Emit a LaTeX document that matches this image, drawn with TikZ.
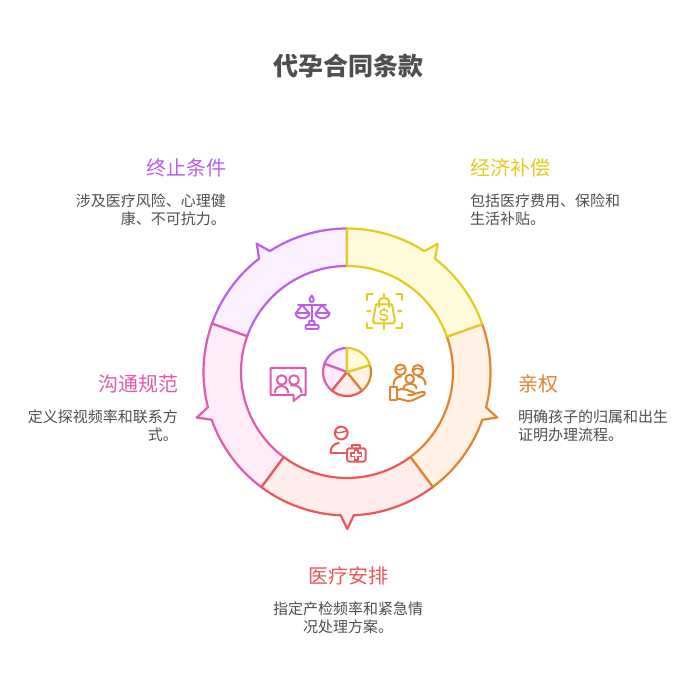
\documentclass[tikz,border=0pt]{standalone}
\usepackage{fontspec}
\setmainfont{Noto Sans CJK SC}
\definecolor{cy}{HTML}{E3CC1C}\definecolor{fy}{HTML}{FFFADC}
\definecolor{co}{HTML}{E0842F}\definecolor{fo}{HTML}{FFF2E4}
\definecolor{cr}{HTML}{EB5757}\definecolor{fr}{HTML}{FFECEC}
\definecolor{cp}{HTML}{DF5AB0}\definecolor{fp}{HTML}{FFECF9}
\definecolor{cv}{HTML}{BB5FEA}\definecolor{fv}{HTML}{FAF0FF}
\definecolor{txt}{HTML}{4F4F4F}
\tikzset{
 titletext/.style={font=\bfseries\fontsize{25pt}{25pt}\selectfont,text=txt,inner sep=0pt},
 headtext/.style={font=\fontsize{20pt}{20pt}\selectfont,inner sep=0pt},
 bodytext/.style={font=\fontsize{15pt}{15pt}\selectfont,text=txt,inner sep=0pt},
 segline/.style={line width=2.2pt,line join=round},
 pieline/.style={line width=2.2pt,line join=round},
 iconline/.style={line width=2pt,line cap=round,line join=round},
 iconfine/.style={line width=1.5pt},
}
\newcommand{\ringseg}[4]{%
 \pgfmathsetmacro{\midang}{(#3+#4)/2}%
 \pgfmathsetmacro{\midA}{\midang+2.6}\pgfmathsetmacro{\midB}{\midang-2.6}%
 \draw[segline,draw=#1,fill=#2] (#3:143.5) arc[start angle=#3,end angle=\midA,radius=143.5]
  -- (\midang:157) -- (\midB:143.5) arc[start angle=\midB,end angle=#4,radius=143.5]
  -- (#4:106) arc[start angle=#4,end angle=#3,radius=106] -- cycle;}
\newcommand{\pieseg}[4]{%
 \draw[pieline,draw=#1,fill=#2] (0,0) -- (#3:24) arc[start angle=#3,end angle=#4,radius=24] -- cycle;}
\begin{document}
\begin{tikzpicture}[x=1pt,y=-1pt]
\useasboundingbox (0,0) rectangle (696,684);
\fill[white] (0,0) rectangle (696,684);
\node[titletext,anchor=base] (title) at (348,75.5) {代孕合同条款};
\begin{scope}[shift={(347,372)},y=1pt]
 \ringseg{cv}{fv}{160.3}{90}
 \ringseg{cp}{fp}{233.4}{160.3}
 \ringseg{cr}{fr}{306.8}{233.4}
 \ringseg{co}{fo}{379.5}{306.8}
 \ringseg{cy}{fy}{90}{19.5}
 \pieseg{cv}{fv}{160}{90}
 \pieseg{cp}{fp}{231}{160}
 \pieseg{cr}{fr}{309}{231}
 \pieseg{co}{fo}{377}{309}
 \pieseg{cy}{fy}{90}{17}
\end{scope}
\node[headtext,text=cv,anchor=base east] (h1) at (226.5,175.5) {终止条件};
\node[bodytext,anchor=base east] (b1a) at (226,206.5) {涉及医疗风险、心理健};
\node[bodytext,anchor=base east] (b1b) at (226,224.5) {康、不可抗力。};
\node[headtext,text=cy,anchor=base west] (h2) at (470,175.5) {经济补偿};
\node[bodytext,anchor=base west] (b2a) at (470,206.5) {包括医疗费用、保险和};
\node[bodytext,anchor=base west] (b2b) at (470,224.5) {生活补贴。};
\node[headtext,text=co,anchor=base west] (h3) at (518,391.5) {亲权};
\node[bodytext,anchor=base west] (b3a) at (518,422.5) {明确孩子的归属和出生};
\node[bodytext,anchor=base west] (b3b) at (518,440.5) {证明办理流程。};
\node[headtext,text=cp,anchor=base east] (h4) at (178.5,391.5) {沟通规范};
\node[bodytext,anchor=base east] (b4a) at (178,422.5) {定义探视频率和联系方};
\node[bodytext,anchor=base east] (b4b) at (178,440.5) {式。};
\node[headtext,text=cr,anchor=base] (h5) at (348,583) {医疗安排};
\node[bodytext,anchor=base] (b5a) at (348,614.5) {指定产检频率和紧急情};
\node[bodytext,anchor=base] (b5b) at (348,632.5) {况处理方案。};
% scales icon
\begin{scope}[iconline,draw=cv]
 \draw (311.7,305) -- (311.7,321);
 \draw (311.7,295.5) .. controls (309,298.5) and (309,302) .. (311.7,302) .. controls (314.4,302) and (314.4,298.5) .. (311.7,295.5);
 \draw (298,305) -- (326,305);
 \draw (302,305) -- (296,313) (302,305) -- (309,313);
 \draw (322,305) -- (316,313) (322,305) -- (329,313);
 \draw (295.5,313) -- (309.5,313) .. controls (309,320) and (296,320) .. (295.5,313);
 \draw (315.5,313) -- (329.5,313) .. controls (329,320) and (316,320) .. (315.5,313);
 \draw (308.5,325) -- (309.5,321) -- (314,321) -- (315,325);
 \draw[rounded corners=1pt] (305.5,325) rectangle (318.5,329);
\end{scope}
% bag icon
\begin{scope}[iconline,draw=cy]
 \draw (367,300) -- (367,294.5) -- (372.5,294.5);
 \draw (396,294.5) -- (401.5,294.5) -- (401.5,300);
 \draw (367,323) -- (367,328.5) -- (372.5,328.5);
 \draw (396,328.5) -- (401.5,328.5) -- (401.5,323);
 \draw (384,294) -- (384,297.5);
 \draw (384,325) -- (384,329);
 \draw (367,311) -- (370.5,311);
 \draw (398,311) -- (401.5,311);
 \draw (376,304.5) -- (392,304.5) -- (395,321) -- (393,323.5) -- (375,323.5) -- (373,321) -- cycle;
 \draw (379,307) -- (379,303) .. controls (379,298) and (382,298) .. (384,298) .. controls (386,298) and (389,298) .. (389,303) -- (389,307);
 \draw[iconfine] (387.5,312) .. controls (387,310.5) and (386.5,310) .. (385,310) -- (382.5,310)
   .. controls (379.5,310) and (379.5,315) .. (382.5,315) -- (385,315)
   .. controls (388.5,315) and (388.5,320) .. (385,320) -- (382.5,320) .. controls (381,320) and (380.5,319.5) .. (380,318);
 \draw[iconfine] (383.8,308.3) -- (383.8,310) (383.8,320) -- (383.8,321.7);
\end{scope}
% chat icon
\begin{scope}[iconline,draw=cp]
 \draw (270.5,368) -- (305.5,368) -- (305.5,395) -- (301,395) -- (293.5,401) -- (293.5,395) -- (270.5,395) -- cycle;
 \draw (281.7,380) circle[radius=4.8];
 \draw (294,380) circle[radius=4.8];
 \draw (275,392.5) .. controls (275,384) and (288,384) .. (288,392.5);
 \draw (291,385.5) .. controls (296,384.5) and (301.5,387) .. (301.5,392.5);
\end{scope}
% family icon
\begin{scope}[iconline,draw=co]
 \draw (400.5,369.8) circle[radius=5.3];
 \draw (417.8,370.3) circle[radius=5.3];
 \draw (409.7,379) circle[radius=4.3];
 \draw[iconfine] (395.5,369) .. controls (399,370.5) and (402.5,369.5) .. (405,367.5);
 \draw[iconfine] (413,371) .. controls (415,367.5) and (420,367.5) .. (422.5,371);
 \draw (393.5,385) .. controls (393.5,379.5) and (397,376.5) .. (401,376.5);
 \draw (418,376.5) .. controls (422.5,376.5) and (425.5,380) .. (425.5,384.5);
 \draw (403.5,388.5) .. controls (404,382) and (416,382) .. (416.5,388.5);
 \draw (390.3,387) rectangle (396.7,400);
 \draw (396.7,390.5) .. controls (402,387.5) and (407,390) .. (411,391.5) -- (414,392.5) .. controls (416,393.5) and (414,395) .. (412,395) -- (408,395);
 \draw (414,394) -- (422,392) .. controls (425,391.5) and (426,393.5) .. (424,395) -- (412,400.5) .. controls (407,402.5) and (402,398.5) .. (396.7,398.5);
\end{scope}
% doctor icon
\begin{scope}[iconline,draw=cr]
 \draw (341.2,433) circle[radius=6.4];
 \draw[iconfine] (335,431.5) .. controls (339,434.5) and (344,431) .. (347.3,431);
 \draw (330.5,452.5) .. controls (330.5,447) and (334,443.5) .. (338.8,443);
 \draw (330.5,452.5) -- (346,452.5);
 \draw[rounded corners=1.5pt] (347.2,448.3) rectangle (365.5,461.5);
 \draw (352,448) -- (352,445) -- (360,445) -- (360,448);
 \draw[iconfine] (354.6,449.8) -- (358,449.8) -- (358,453.2) -- (361.4,453.2) -- (361.4,456.6) -- (358,456.6) -- (358,460) -- (354.6,460) -- (354.6,456.6) -- (351.2,456.6) -- (351.2,453.2) -- (354.6,453.2) -- cycle;
\end{scope}
\end{tikzpicture}
\end{document}
